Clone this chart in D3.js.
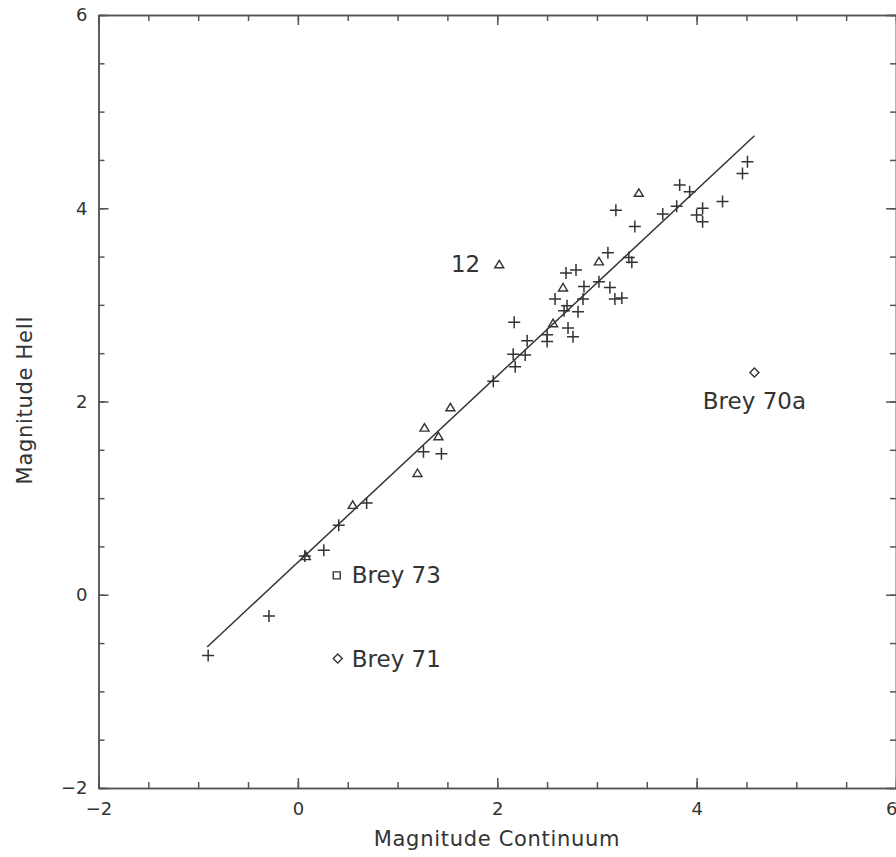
<!DOCTYPE html>
<html>
<head>
<meta charset="utf-8">
<script src="https://cdn.jsdelivr.net/npm/d3@7"></script>
<style>
	body { margin: 0; background: #fff; }
	svg { display: block; font-family: "DejaVu Sans", sans-serif; }
</style>
</head>
<body>
<div id="DrawZone"></div>
<script>
// values (Magnitude Continuum vs Magnitude HeII)
var crossX = [-0.90, -0.29, 0.07, 0.26, 0.41, 0.69, 1.26, 1.44, 1.96, 2.18, 2.16, 2.28, 2.17, 2.30, 2.50, 2.50, 2.71, 2.76, 2.70, 2.67, 2.81, 2.58, 2.86, 2.87, 3.02, 3.13, 3.18, 3.25, 2.69, 2.79, 3.11, 3.32, 3.35, 3.38, 3.19, 3.66, 3.80, 3.83, 3.93, 4.00, 4.06, 4.06, 4.26, 4.46, 4.51];
var crossY = [-0.63, -0.22, 0.40, 0.46, 0.72, 0.95, 1.48, 1.46, 2.21, 2.36, 2.49, 2.48, 2.82, 2.63, 2.69, 2.62, 2.76, 2.67, 2.99, 2.94, 2.93, 3.06, 3.06, 3.19, 3.24, 3.18, 3.06, 3.07, 3.33, 3.36, 3.54, 3.49, 3.44, 3.81, 3.98, 3.94, 4.02, 4.24, 4.17, 3.93, 4.00, 3.86, 4.07, 4.36, 4.48];
var triX = [0.08, 0.55, 1.20, 1.27, 1.41, 1.53, 2.02, 2.56, 2.66, 3.02, 3.42];
var triY = [0.40, 0.93, 1.26, 1.73, 1.64, 1.94, 3.42, 2.81, 3.18, 3.45, 4.16];
var squareX = [0.39];
var squareY = [0.20];
var diamondX = [0.40, 4.58];
var diamondY = [-0.66, 2.30];
var fitX = [-0.91, 4.58];
var fitY = [-0.54, 4.75];
var labelNames = ["12", "Brey 73", "Brey 71", "Brey 70a"];
var labelX = [2.02, 0.39, 0.40, 4.58];
var labelY = [3.42, 0.20, -0.66, 2.30];
var majorTicks = [-2, 0, 2, 4, 6];
var minorTicks = d3.range(-2, 6.01, 0.5);
var xTitle = "Magnitude Continuum";
var yTitle = "Magnitude HeII";

var width = 896, height = 857;
var ink = "#333";

var Chart = d3.select("#DrawZone").append("svg").attr("width", width).attr("height", height);

var x = d3.scaleLinear().domain([-2, 6]).range([98.5, 896]);
var y = d3.scaleLinear().domain([-2, 6]).range([788, 15]);

//axes on all four sides, ticks pointing inward
function DrawAxis(axisMaker, scale, tx, ty, withLabels) {
	var g = Chart.append("g").attr("transform", "translate(" + tx + "," + ty + ")");
	g.call(axisMaker(scale).tickValues(minorTicks).tickSizeInner(-6).tickSizeOuter(0).tickFormat(""));
	var m = Chart.append("g").attr("transform", "translate(" + tx + "," + ty + ")");
	m.call(axisMaker(scale).tickValues(majorTicks).tickSizeInner(-10).tickSizeOuter(0).tickPadding(withLabels ? 14 : 0).tickFormat(withLabels ? d3.format("d") : ""));
	[g, m].forEach(function(s){
		s.selectAll("path, line").attr("stroke", "#555").attr("stroke-width", 1.5);
		s.selectAll("text").attr("fill", ink).style("font-size", "18px").style("font-family", "DejaVu Sans");
	});
	return m;
}
var bottomAxis = DrawAxis(d3.axisBottom, x, 0, 788, true);
// last label sits on the page edge, keep it inside
bottomAxis.selectAll("text").filter(function(d){ return d == 6; }).attr("text-anchor", "end").attr("x", 1);
DrawAxis(d3.axisTop, x, 0, 15, false);
DrawAxis(d3.axisLeft, y, 98.5, 0, true).selectAll("text").attr("x", -11);
DrawAxis(d3.axisRight, y, 896, 0, false);

//fit line
Chart.append("line")
	.attr("x1", x(fitX[0])).attr("y1", y(fitY[0]))
	.attr("x2", x(fitX[1])).attr("y2", y(fitY[1]))
	.attr("stroke", ink).attr("stroke-width", 1.5);

function DrawMarkers(xs, ys, pathString, sw) {
	Chart.append("g").selectAll("path").data(d3.zip(xs, ys)).enter().append("path")
		.attr("transform", function(d){ return "translate(" + x(d[0]) + "," + y(d[1]) + ")"; })
		.attr("d", pathString)
		.attr("fill", "none").attr("stroke", ink).attr("stroke-width", sw);
}
DrawMarkers(crossX, crossY, "M-6,0H6M0,-6V6", 1.5);
DrawMarkers(triX, triY, "M0,-4L4.5,3.5L-4.5,3.5Z", 1.4);
DrawMarkers(squareX, squareY, "M-3.5,-3.5H3.5V3.5H-3.5Z", 1.4);
DrawMarkers(diamondX, diamondY, "M0,-4.5L4.5,0L0,4.5L-4.5,0Z", 1.4);

//labels next to the odd points
var labelDx = [-19, 15, 14, 0];
var labelDy = [8, 8, 8, 36];
var labelAnchor = ["end", "start", "start", "middle"];
Chart.append("g").selectAll("text").data(labelNames).enter().append("text")
	.attr("x", function(d, i){ return x(labelX[i]) + labelDx[i]; })
	.attr("y", function(d, i){ return y(labelY[i]) + labelDy[i]; })
	.attr("text-anchor", function(d, i){ return labelAnchor[i]; })
	.attr("fill", ink).style("font-size", "23px")
	.text(function(d){ return d; });

//axis titles
Chart.append("text").attr("x", 497).attr("y", 846).attr("text-anchor", "middle")
	.attr("fill", ink).style("font-size", "21px").style("letter-spacing", "0.7px").text(xTitle);
Chart.append("text").attr("transform", "translate(32,400) rotate(-90)").attr("text-anchor", "middle")
	.attr("fill", ink).style("font-size", "21px").style("letter-spacing", "0.7px").text(yTitle);
</script>
</body>
</html>
